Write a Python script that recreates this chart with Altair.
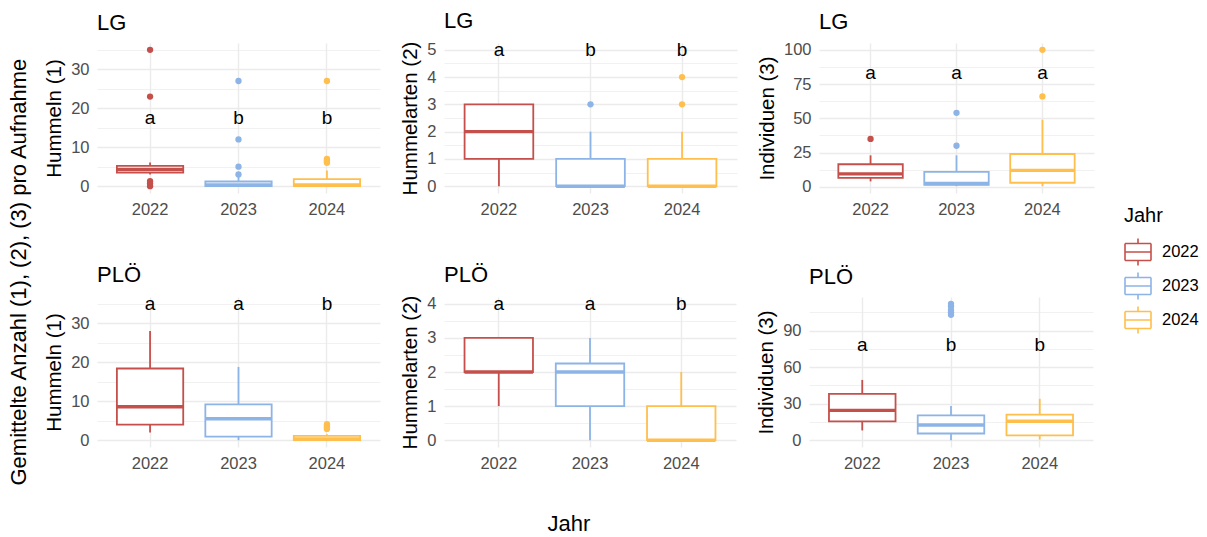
import altair as alt
import pandas as pd

YEARS = ["2022", "2023", "2024"]
COLORS = ["#C5504B", "#8DB4E6", "#FFBF4D"]

# ---------- LG : Hummeln (1)
LG_H_LO = [3.0, 0.0, 0.0]
LG_H_Q1 = [3.5, 0.0, 0.0]
LG_H_MED = [4.3, 0.3, 0.3]
LG_H_Q3 = [5.2, 1.2, 1.8]
LG_H_HI = [6.1, 2.5, 4.0]
LG_H_OUT = [[35, 23, 1.3, 0.7, 0.0], [27, 12, 5, 3], [27, 7, 6.6, 6.3, 6.0]]
LG_H_LET = ["a", "b", "b"]
LG_H_LET_Y = 17.5

# ---------- LG : Hummelarten (2)
LG_A_LO = [0, 0, 0]
LG_A_Q1 = [1, 0, 0]
LG_A_MED = [2, 0, 0]
LG_A_Q3 = [3, 1, 1]
LG_A_HI = [3, 2, 2]
LG_A_OUT = [[], [3], [3, 4]]
LG_A_LET = ["a", "b", "b"]
LG_A_LET_Y = 5

# ---------- LG : Individuen (3)
LG_I_LO = [4.0, 0.5, 0.5]
LG_I_Q1 = [6.5, 1.5, 3.0]
LG_I_MED = [9.5, 2.5, 12.0]
LG_I_Q3 = [16.5, 11.0, 24.0]
LG_I_HI = [23.0, 23.0, 49.0]
LG_I_OUT = [[35], [30, 54], [66, 100]]
LG_I_LET = ["a", "a", "a"]
LG_I_LET_Y = 83

# ---------- PLÖ : Hummeln (1)
PL_H_LO = [2.0, 0.0, 0.0]
PL_H_Q1 = [4.0, 0.9, 0.0]
PL_H_MED = [8.6, 5.5, 0.3]
PL_H_Q3 = [18.4, 9.2, 1.1]
PL_H_HI = [28.0, 18.8, 1.5]
PL_H_OUT = [[], [], [2.9, 3.3, 3.7, 4.1]]
PL_H_LET = ["a", "a", "b"]
PL_H_LET_Y = 35

# ---------- PLÖ : Hummelarten (2)
PL_A_LO = [1, 0, 0]
PL_A_Q1 = [2, 1, 0]
PL_A_MED = [2, 2, 0]
PL_A_Q3 = [3, 2.25, 1]
PL_A_HI = [3, 3, 2]
PL_A_OUT = [[], [], []]
PL_A_LET = ["a", "a", "b"]
PL_A_LET_Y = 4

# ---------- PLÖ : Individuen (3)
PL_I_LO = [8.0, 0.0, 0.5]
PL_I_Q1 = [15.5, 5.5, 4.0]
PL_I_MED = [24.5, 12.5, 15.5]
PL_I_Q3 = [38.0, 20.3, 21.0]
PL_I_HI = [49.5, 28.0, 34.0]
PL_I_OUT = [[], [103, 105, 107, 110, 112], []]
PL_I_LET = ["a", "b", "b"]
PL_I_LET_Y = 78

SITES = ["LG", "PLÖ"]
Y_TITLES = ["Hummeln (1)", "Hummelarten (2)", "Individuen (3)"]
MAJOR_H = [0, 10, 20, 30]
MINOR_H = [5, 15, 25, 35]
MAJOR_A_LG = [0, 1, 2, 3, 4, 5]
MINOR_A_LG = [0.5, 1.5, 2.5, 3.5, 4.5]
MAJOR_A_PL = [0, 1, 2, 3, 4]
MINOR_A_PL = [0.5, 1.5, 2.5, 3.5]
MAJOR_I_LG = [0, 25, 50, 75, 100]
MINOR_I_LG = [12.5, 37.5, 62.5, 87.5]
MAJOR_I_PL = [0, 30, 60, 90]
MINOR_I_PL = [15, 45, 75, 105]

FONT = "Liberation Sans"
GRID = "#EBEBEB"
TICK_COL = "#4D4D4D"

# boxplot glyph built from separate line segments (no fillable area)
LEGEND_PATH = ("M-1,-0.65L1,-0.65 M1,-0.65L1,0.65 M1,0.65L-1,0.65 "
               "M-1,0.65L-1,-0.65 M-1,0L1,0 "
               "M0,-0.65L0,-1.04 M0,0.65L0,1.04")

LEG = alt.Legend(title="Jahr", orient="none", legendX=1027, legendY=163,
                 symbolType=LEGEND_PATH, symbolSize=676,
                 symbolStrokeWidth=1.6, symbolFillColor="transparent",
                 labelFont=FONT, labelFontSize=16.5, labelColor="#000000",
                 titleFont=FONT, titleFontSize=20, titleFontWeight="normal",
                 titleColor="#000000", rowPadding=0, labelOffset=10,
                 titlePadding=12)


def panel(site, ytitle, lo, q1, med, q3, hi, outs, lets, let_y,
          major, minor, width):
    box = pd.DataFrame({"Jahr": YEARS, "lo": lo, "q1": q1, "med": med,
                        "q3": q3, "hi": hi})
    pts = pd.DataFrame([{"Jahr": y, "v": v}
                        for y, o in zip(YEARS, outs) for v in o],
                       columns=["Jahr", "v"])
    txt = pd.DataFrame({"Jahr": YEARS, "l": lets, "ly": [let_y] * 3})

    allv = list(lo) + list(hi) + [v for o in outs for v in o] + [let_y]
    mn, mx = min(allv), max(allv)
    pad = 0.05 * (mx - mn)
    ysc = alt.Scale(domain=[mn - pad, mx + pad], nice=False, zero=False)

    xsc = alt.Scale(domain=YEARS, paddingInner=0.25, paddingOuter=0.225)
    xax = alt.Axis(title=None, bandPosition=0.5, grid=True, gridColor=GRID,
                   gridWidth=1.4, ticks=False, domain=False, labelAngle=0,
                   labelFont=FONT, labelFontSize=16.5, labelColor=TICK_COL,
                   labelPadding=8)
    x = alt.X("Jahr:N", scale=xsc, axis=xax)
    ssc = alt.Scale(domain=YEARS, range=COLORS)
    stroke = alt.Stroke("Jahr:N", scale=ssc, legend=LEG)

    minor_ax = alt.Axis(values=minor, grid=True, gridColor=GRID,
                        gridWidth=0.7, labels=False, ticks=False,
                        domain=False, title=None, orient="right")
    major_ax = alt.Axis(values=major, grid=True, gridColor=GRID,
                        gridWidth=1.4, ticks=False, domain=False,
                        title=ytitle, titleFont=FONT, titleFontSize=20.5,
                        titleFontWeight="normal", titleColor="#000000",
                        titlePadding=6, labelFont=FONT, labelFontSize=16.5,
                        labelColor=TICK_COL, labelPadding=8, orient="left")

    whisk = alt.Chart(box).mark_rule(strokeWidth=1.8).encode(
        x=x, y=alt.Y("lo:Q", scale=ysc, axis=minor_ax), y2="hi:Q",
        stroke=stroke)
    bx = alt.Chart(box).mark_bar(fill="white", strokeWidth=1.8).encode(
        x=x, y=alt.Y("q1:Q", scale=ysc, axis=major_ax), y2="q3:Q",
        stroke=stroke)
    md = alt.Chart(box).mark_bar(fillOpacity=0, strokeWidth=3.4).encode(
        x=x, y=alt.Y("med:Q", scale=ysc, axis=None), y2="med:Q",
        stroke=stroke)
    pt = alt.Chart(pts).mark_circle(size=40, opacity=1).encode(
        x=x, y=alt.Y("v:Q", scale=ysc, axis=None),
        color=alt.Color("Jahr:N", scale=ssc, legend=None))
    tx = alt.Chart(txt).mark_text(fontSize=19, font=FONT, color="black",
                                  baseline="middle").encode(
        x=x, y=alt.Y("ly:Q", scale=ysc, axis=None), text="l:N")
    return (alt.layer(whisk, bx, md, pt, tx)
            .resolve_scale(y="shared")
            .resolve_axis(y="independent")
            .properties(width=width, height=150,
                        title=alt.TitleParams(site, anchor="start",
                                              frame="group", fontSize=22,
                                              font=FONT, fontWeight="normal",
                                              baseline="alphabetic",
                                              offset=0, dy=9)))


p1 = panel(SITES[0], Y_TITLES[0], LG_H_LO, LG_H_Q1, LG_H_MED, LG_H_Q3,
           LG_H_HI, LG_H_OUT, LG_H_LET, LG_H_LET_Y, MAJOR_H, MINOR_H, 283)
p2 = panel(SITES[0], Y_TITLES[1], LG_A_LO, LG_A_Q1, LG_A_MED, LG_A_Q3,
           LG_A_HI, LG_A_OUT, LG_A_LET, LG_A_LET_Y, MAJOR_A_LG, MINOR_A_LG,
           293)
p3 = panel(SITES[0], Y_TITLES[2], LG_I_LO, LG_I_Q1, LG_I_MED, LG_I_Q3,
           LG_I_HI, LG_I_OUT, LG_I_LET, LG_I_LET_Y, MAJOR_I_LG, MINOR_I_LG,
           275)
p4 = panel(SITES[1], Y_TITLES[0], PL_H_LO, PL_H_Q1, PL_H_MED, PL_H_Q3,
           PL_H_HI, PL_H_OUT, PL_H_LET, PL_H_LET_Y, MAJOR_H, MINOR_H, 283)
p5 = panel(SITES[1], Y_TITLES[1], PL_A_LO, PL_A_Q1, PL_A_MED, PL_A_Q3,
           PL_A_HI, PL_A_OUT, PL_A_LET, PL_A_LET_Y, MAJOR_A_PL, MINOR_A_PL,
           292)
p6 = panel(SITES[1], Y_TITLES[2], PL_I_LO, PL_I_Q1, PL_I_MED, PL_I_Q3,
           PL_I_HI, PL_I_OUT, PL_I_LET, PL_I_LET_Y, MAJOR_I_PL, MINOR_I_PL,
           284)

row1 = alt.hconcat(p1, p2, p3, spacing=20).resolve_scale(
    stroke="shared", color="shared")
row2 = alt.hconcat(p4, p5, p6, spacing=20).resolve_scale(
    stroke="shared", color="shared").properties(
    title=alt.TitleParams("Jahr", orient="bottom", anchor="middle",
                          fontSize=22, font=FONT, fontWeight="normal",
                          offset=42))

chart = alt.vconcat(row1, row2, spacing=45).resolve_scale(
    stroke="shared", color="shared").properties(
    title=alt.TitleParams("Gemittelte Anzahl (1), (2), (3) pro Aufnahme",
                          orient="left", anchor="middle", fontSize=22,
                          font=FONT, fontWeight="normal", offset=14),
    padding={"left": 7, "top": 9, "right": 5, "bottom": 0},
).configure(font=FONT).configure_view(stroke=None)

chart.save("out.html", embed_options={"renderer": "svg", "actions": False})
